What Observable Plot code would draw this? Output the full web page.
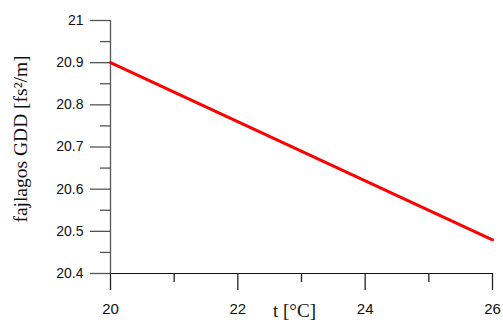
<!DOCTYPE html>
<html>
<head>
<meta charset="utf-8">
<script src="https://cdn.jsdelivr.net/npm/d3@7"></script>
<script src="https://cdn.jsdelivr.net/npm/@observablehq/plot@0.6"></script>
<style>
  html, body { margin: 0; padding: 0; background: #fff; }
  #chart { width: 503px; height: 320px; }
</style>
</head>
<body>
<div id="chart"></div>
<script>
// Data
const temps = [20, 26];
const gdd = [20.9, 20.48];

// Tick values
const xMajorTicks = [20, 22, 24, 26];
const xMinorTicks = [21, 23, 25];
const yMajorTicks = [20.4, 20.5, 20.6, 20.7, 20.8, 20.9, 21];
const yMinorTicks = [20.45, 20.55, 20.65, 20.75, 20.85, 20.95];
const yTickLabels = ["20.4", "20.5", "20.6", "20.7", "20.8", "20.9", "21"];

const xTitle = "t [°C]";
const yTitle = "fajlagos GDD [fs²/m]";

const rows = temps.map((t, i) => ({t, g: gdd[i]}));

const sans = "'Liberation Sans', Arial, sans-serif";
const serif = "'Liberation Serif', 'Times New Roman', serif";

const chart = Plot.plot({
  width: 503,
  height: 320,
  marginLeft: 110,
  marginRight: 11,
  marginTop: 20,
  marginBottom: 47,
  style: {background: "#fff", overflow: "visible"},
  x: {domain: [20, 26], axis: null},
  y: {domain: [20.4, 21], axis: null},
  marks: [
    Plot.ruleX([20], {stroke: "#555", strokeWidth: 1.3}),
    Plot.ruleY([20.4], {stroke: "#111", strokeWidth: 1.2}),
    Plot.axisY(yMajorTicks, {
      tickSize: 20, tickPadding: 7, stroke: "#555", strokeWidth: 1.3,
      tickFormat: (d) => yTickLabels[yMajorTicks.indexOf(d)],
      fontSize: 14, fontFamily: sans, fill: "#111", label: null,
      style: {letterSpacing: "0.8px"}
    }),
    Plot.axisY(yMinorTicks, {
      tickSize: 10, stroke: "#555", strokeWidth: 1.3,
      tickFormat: () => "", label: null
    }),
    Plot.axisX(xMajorTicks, {
      tickSize: 17, tickPadding: 13, stroke: "#222", strokeWidth: 1.3,
      fontSize: 15, fontFamily: sans, fill: "#111", label: null
    }),
    Plot.axisX(xMinorTicks, {
      tickSize: 9, stroke: "#222", strokeWidth: 1.3,
      tickFormat: () => "", label: null
    }),
    Plot.line(rows, {x: "t", y: "g", stroke: "#ff0000", strokeWidth: 3}),
    Plot.text([yTitle], {
      frameAnchor: "left", rotate: -90, dx: -90, dy: -8,
      textAnchor: "middle", lineAnchor: "middle",
      fontFamily: serif, fontSize: 19.5, fill: "#111"
    }),
    Plot.text([xTitle], {
      frameAnchor: "bottom", dx: -7, dy: 37,
      textAnchor: "middle", lineAnchor: "middle",
      fontFamily: serif, fontSize: 19, fill: "#111"
    })
  ]
});

document.getElementById("chart").appendChild(chart);
</script>
</body>
</html>
